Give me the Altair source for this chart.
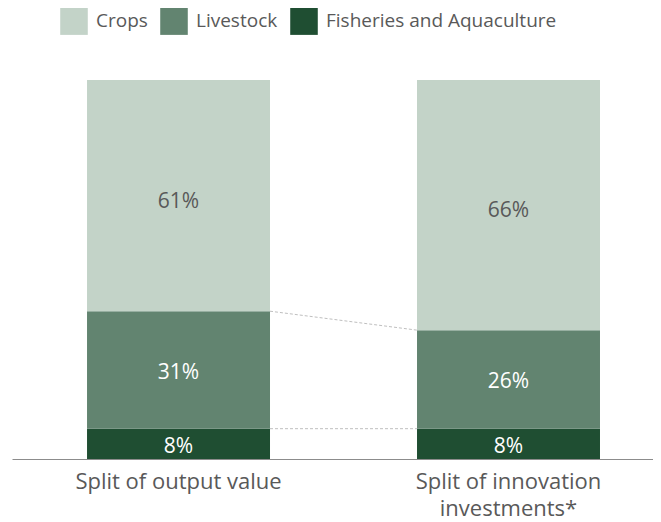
import altair as alt
import pandas as pd

categories = ["Split of output value", "Split of innovation|investments*"]
segments = ["Crops", "Livestock", "Fisheries and Aquaculture"]
crops = [61, 66]
livestock = [31, 26]
fisheries = [8, 8]
colors = ["#C3D3C8", "#628470", "#1F4E32"]

rows = []
for i, c in enumerate(categories):
    base = 0
    for s, vals in [("Fisheries and Aquaculture", fisheries), ("Livestock", livestock), ("Crops", crops)]:
        v = vals[i]
        rows.append({"cat": c, "seg": s, "val": v, "y0": base, "y1": base + v,
                     "mid": base + v / 2, "label": f"{v}%"})
        base += v
df = pd.DataFrame(rows)

# connector lines between the stacks (segment boundaries)
conn = pd.DataFrame({
    "a": [categories[0], categories[0]],
    "b": [categories[1], categories[1]],
    "ya": [fisheries[0] + livestock[0], fisheries[0]],
    "yb": [fisheries[1] + livestock[1], fisheries[1]],
})

FONT = "Open Sans"

xscale = alt.Scale(domain=categories, paddingInner=0.4455, paddingOuter=0.194, align=0.586)
yscale = alt.Scale(domain=[0, 100], nice=False)

bars = alt.Chart(df).mark_bar().encode(
    x=alt.X("cat:N", scale=xscale, sort=categories,
            axis=alt.Axis(title=None, labelAngle=0, ticks=False, domainColor="#8C8C8C",
                          labelFont=FONT, labelFontSize=22, labelColor="#595959",
                          labelPadding=12, labelLineHeight=27, labelLimit=400,
                          labelExpr="split(datum.label, '|')")),
    y=alt.Y("y0:Q", scale=yscale, axis=None),
    y2="y1:Q",
    color=alt.Color("seg:N", scale=alt.Scale(domain=segments, range=colors),
                    legend=alt.Legend(title=None, orient="none", legendX=48, legendY=-73,
                                      direction="horizontal", symbolType="square",
                                      symbolSize=760, symbolStrokeWidth=0, symbolOpacity=1,
                                      labelFont=FONT, labelFontSize=19, labelColor="#595959",
                                      labelOffset=8, columnPadding=12, labelLimit=400)),
)

labels_crops = alt.Chart(df).transform_filter(alt.datum.seg == "Crops").mark_text(
    font=FONT, fontSize=21, color="#595959", dy=6).encode(
    x=alt.X("cat:N", scale=xscale, sort=categories),
    y=alt.Y("mid:Q", scale=yscale),
    text="label:N",
)

labels_other = alt.Chart(df).transform_filter(alt.datum.seg != "Crops").mark_text(
    font=FONT, fontSize=21, color="#FFFFFF", dy=3).encode(
    x=alt.X("cat:N", scale=xscale, sort=categories),
    y=alt.Y("mid:Q", scale=yscale),
    text="label:N",
)

lines = alt.Chart(conn).mark_rule(color="#BFBFBF", strokeDash=[3, 2], strokeWidth=1).encode(
    x=alt.value({"expr": "scale('x', datum.a) + bandwidth('x')"}),
    x2=alt.value({"expr": "scale('x', datum.b)"}),
    y=alt.Y("ya:Q", scale=yscale),
    y2="yb:Q",
)

chart = alt.layer(bars, labels_crops, labels_other, lines).properties(
    width=641, height=379,
    padding={"left": 4, "top": 72, "right": 0, "bottom": 63},
    autosize=alt.AutoSizeParams(type="none"),
).configure_view(stroke=None)

chart.save("out.html", embed_options={"renderer": "svg", "actions": False})
